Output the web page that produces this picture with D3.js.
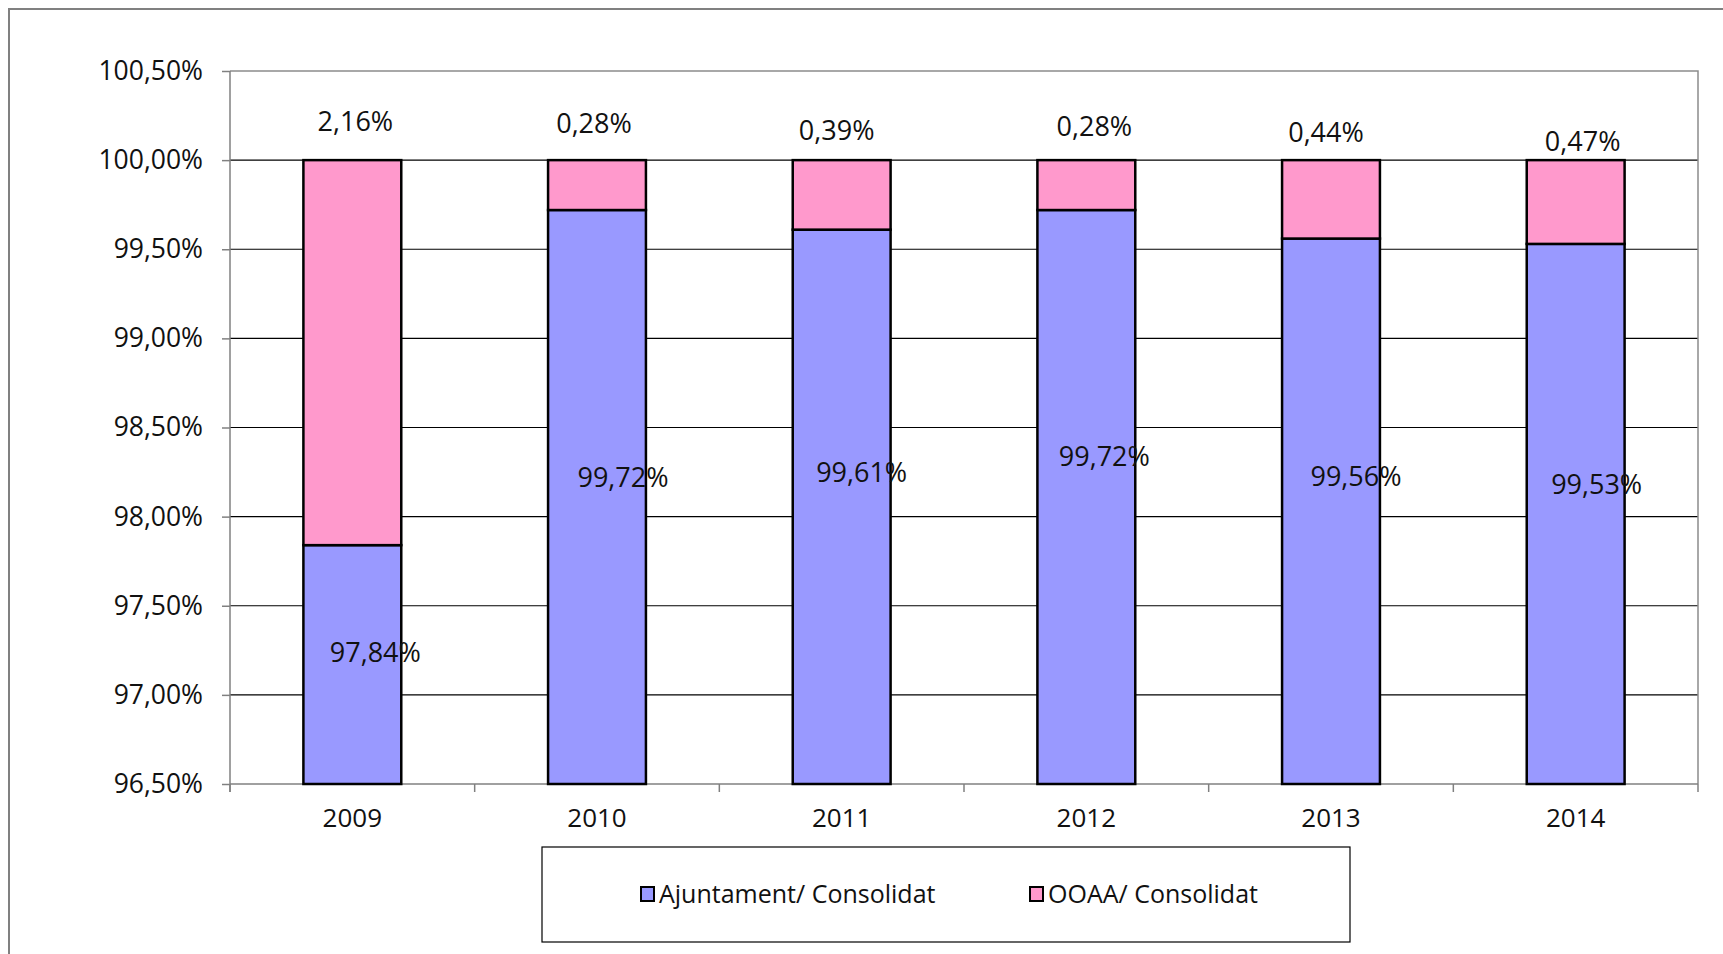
<!DOCTYPE html>
<html>
<head>
<meta charset="utf-8">
<script src="https://cdn.jsdelivr.net/npm/d3@7"></script>
<style>
  body { margin: 0; background: #fff; }
  svg { display: block; }
  text { font-family: "Open Sans", "Noto Sans", sans-serif; fill: #111; }
</style>
</head>
<body>
<svg id="chart" width="1723" height="954"></svg>
<script>
// data
const years = ["2009", "2010", "2011", "2012", "2013", "2014"];
const ajuntament = [97.84, 99.72, 99.61, 99.72, 99.56, 99.53];
const ooaa = [2.16, 0.28, 0.39, 0.28, 0.44, 0.47];
const seriesNames = ["Ajuntament/ Consolidat", "OOAA/ Consolidat"];
const yTicks = [96.5, 97, 97.5, 98, 98.5, 99, 99.5, 100, 100.5];

// excel put the labels a bit wherever, small nudges to match
const topLabelDx = [3, -3, -5, 8, -5, 7];
const topLabelDy = [-39, -37, -30, -34, -28, -19];
const midLabelDx = [23, 26, 20, 18, 25, 21];
const midLabelDy = [-12, -19, -34, -40, -35, -29];

const colors = ["#9999ff", "#ff99cc"];

var svg = d3.select("#chart");

// outer chart frame (runs off the right/bottom edge)
svg.append("rect")
  .attr("x", 9).attr("y", 9)
  .attr("width", 1730).attr("height", 960)
  .attr("fill", "none").attr("stroke", "#808080").attr("stroke-width", 2);

var margin = { left: 230, top: 71, right: 1698, bottom: 784 };

var x = d3.scaleBand().domain(years)
  .range([margin.left, margin.right])
  .paddingInner(0.6).paddingOuter(0.3);

var y = d3.scaleLinear().domain([96.5, 100.5])
  .range([margin.bottom, margin.top]).clamp(true);

var loc = d3.formatLocale({ decimal: ",", thousands: ".", grouping: [3], currency: ["", "€"] });
var fmt = v => loc.format(".2f")(v) + "%";

// gridlines
svg.append("g").selectAll("line")
  .data(yTicks.filter(t => t > 96.5 && t < 100.5))
  .enter().append("line")
  .attr("x1", margin.left).attr("x2", margin.right)
  .attr("y1", d => y(d)).attr("y2", d => y(d))
  .attr("stroke", "#000").attr("stroke-width", 1.2);

// plot frame top + right
svg.append("path")
  .attr("d", `M${margin.left},${margin.top}H${margin.right}V${margin.bottom}`)
  .attr("fill", "none").attr("stroke", "#8c8c8c").attr("stroke-width", 1.5);

// y axis
var yAxis = svg.append("g")
  .attr("transform", `translate(${margin.left},0)`)
  .call(d3.axisLeft(y).tickValues(yTicks).tickSize(8).tickPadding(19).tickFormat(fmt));
yAxis.select(".domain").attr("stroke", "#808080").attr("stroke-width", 1.5)
  .attr("d", `M0,${margin.top}V${margin.bottom + 8}`);
yAxis.selectAll(".tick line").attr("stroke", "#808080").attr("stroke-width", 1.5);
yAxis.selectAll("text").style("font-size", "26.5px").attr("fill", "#111");

// x axis: ticks at the category boundaries
var xb = svg.append("g");
xb.append("line")
  .attr("x1", margin.left).attr("x2", margin.right)
  .attr("y1", margin.bottom).attr("y2", margin.bottom)
  .attr("stroke", "#808080").attr("stroke-width", 1.5);
xb.selectAll(".xt").data(d3.range(years.length + 1))
  .enter().append("line")
  .attr("x1", i => margin.left + i * (margin.right - margin.left) / years.length)
  .attr("x2", i => margin.left + i * (margin.right - margin.left) / years.length)
  .attr("y1", margin.bottom).attr("y2", margin.bottom + 8)
  .attr("stroke", "#808080").attr("stroke-width", 1.5);
xb.selectAll(".xl").data(years)
  .enter().append("text")
  .attr("x", d => x(d) + x.bandwidth() / 2)
  .attr("y", margin.bottom + 43)
  .attr("text-anchor", "middle")
  .style("font-size", "26px")
  .text(d => d);

// stacked bars
var table = years.map((yr, i) => ({ year: yr, a: ajuntament[i], o: ooaa[i] }));
var stack = d3.stack().keys(["a", "o"]);
var layers = stack(table);

svg.append("g").selectAll("g")
  .data(layers).enter().append("g")
  .attr("fill", (d, i) => colors[i])
  .selectAll("rect")
  .data(d => d).enter().append("rect")
  .attr("x", d => x(d.data.year))
  .attr("width", x.bandwidth())
  .attr("y", d => y(d[1]))
  .attr("height", d => y(d[0]) - y(d[1]))
  .attr("stroke", "#000").attr("stroke-width", 2.5);

// labels for OOAA above bar
svg.append("g").selectAll("text")
  .data(table).enter().append("text")
  .attr("x", (d, i) => x(d.year) + x.bandwidth() / 2 + topLabelDx[i])
  .attr("y", (d, i) => y(d.a + d.o) + topLabelDy[i])
  .attr("dy", "0.35em")
  .attr("text-anchor", "middle")
  .style("font-size", "27px")
  .text(d => fmt(d.o));

// labels for Ajuntament inside bar
svg.append("g").selectAll("text")
  .data(table).enter().append("text")
  .attr("x", (d, i) => x(d.year) + x.bandwidth() / 2 + midLabelDx[i])
  .attr("y", (d, i) => (y(d.a) + y(0)) / 2 + midLabelDy[i])
  .attr("dy", "0.35em")
  .attr("text-anchor", "middle")
  .style("font-size", "27px")
  .text(d => fmt(d.a));

// legend
var lg = svg.append("g");
lg.append("rect")
  .attr("x", 542).attr("y", 847).attr("width", 808).attr("height", 95)
  .attr("fill", "#fff").attr("stroke", "#000").attr("stroke-width", 1.2);
var legX = [641, 1030];
var items = lg.selectAll(".it").data(seriesNames).enter().append("g")
  .attr("transform", (d, i) => `translate(${legX[i]},894)`);
items.append("rect")
  .attr("x", 0).attr("y", -7).attr("width", 13).attr("height", 14)
  .attr("fill", (d, i) => colors[i]).attr("stroke", "#000").attr("stroke-width", 2);
items.append("text")
  .attr("x", 18).attr("dy", "0.35em")
  .style("font-size", "25px")
  .text(d => d);
</script>
</body>
</html>
